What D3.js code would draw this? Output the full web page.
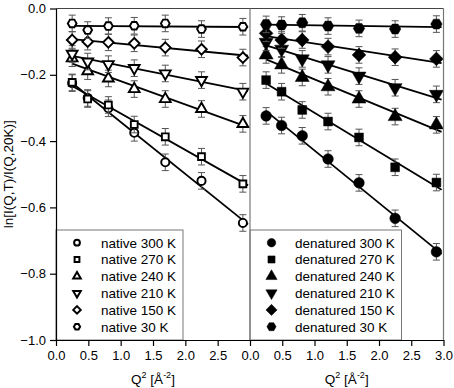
<!DOCTYPE html>
<html lang="en">
<head>
<meta charset="UTF-8"/>
<title>ln I(Q,T) vs Q2</title>
<script src="https://d3js.org/d3.v7.min.js"></script>
<style>
	body { margin: 0; background: #fff; }
	text { font-family: "Liberation Sans", Arial, sans-serif; }
</style>
</head>
<body>
<script>
	// Q^2 values (A^-2)
	var q2 = [0.25, 0.49, 0.81, 1.21, 1.69, 2.25, 2.89];

	var nativeLabels = ["native 300 K", "native 270 K", "native 240 K", "native 210 K", "native 150 K", "native 30 K"];
	var denatLabels = ["denatured 300 K", "denatured 270 K", "denatured 240 K", "denatured 210 K", "denatured 150 K", "denatured 30 K"];

	var native300 = [-0.225, -0.270, -0.301, -0.375, -0.464, -0.520, -0.647];
	var native270 = [-0.223, -0.273, -0.291, -0.350, -0.387, -0.447, -0.529];
	var native240 = [-0.150, -0.189, -0.211, -0.243, -0.273, -0.303, -0.348];
	var native210 = [-0.137, -0.160, -0.168, -0.180, -0.196, -0.216, -0.251];
	var native150 = [-0.095, -0.100, -0.102, -0.105, -0.118, -0.123, -0.148];
	var native30  = [-0.045, -0.065, -0.053, -0.052, -0.045, -0.062, -0.055];

	var denat300 = [-0.324, -0.353, -0.384, -0.454, -0.526, -0.633, -0.734];
	var denat270 = [-0.216, -0.251, -0.306, -0.341, -0.389, -0.479, -0.525];
	var denat240 = [-0.140, -0.170, -0.208, -0.236, -0.273, -0.326, -0.351];
	var denat210 = [-0.102, -0.123, -0.152, -0.170, -0.204, -0.239, -0.259];
	var denat150 = [-0.075, -0.095, -0.095, -0.115, -0.140, -0.147, -0.152];
	var denat30  = [-0.048, -0.050, -0.043, -0.053, -0.060, -0.062, -0.047];

	var errBar = 0.025;

	var xTicksLeft = [0, 0.5, 1, 1.5, 2, 2.5];
	var xTicksRight = [0, 0.5, 1, 1.5, 2, 2.5, 3];
	var yTicks = [0, -0.2, -0.4, -0.6, -0.8, -1.0];

	var w = 454, h = 388;
	var padL = 56, padMid = 250, padR = 443.5, padT = 8.5, padB = 340;

	var svg = d3.select("body").append("svg")
		.attr("width", w).attr("height", h);

	var yScale = d3.scaleLinear().domain([-1, 0]).range([padB, padT]);
	var xLeft = d3.scaleLinear().domain([0, 3]).range([padL, padMid]);
	var xRight = d3.scaleLinear().domain([0, 3]).range([padMid, padR]);

	// custom marker shapes
	var triDown = { draw: function(ctx, size) {
		var s = Math.sqrt(size / (Math.sqrt(3) / 4));
		var hgt = s * Math.sqrt(3) / 2;
		ctx.moveTo(-s / 2, -hgt / 3);
		ctx.lineTo(s / 2, -hgt / 3);
		ctx.lineTo(0, 2 * hgt / 3);
		ctx.closePath();
	}};
	var triUp = { draw: function(ctx, size) {
		var s = Math.sqrt(size / (Math.sqrt(3) / 4));
		var hgt = s * Math.sqrt(3) / 2;
		ctx.moveTo(-s / 2, hgt / 3);
		ctx.lineTo(s / 2, hgt / 3);
		ctx.lineTo(0, -2 * hgt / 3);
		ctx.closePath();
	}};
	var diamond = { draw: function(ctx, size) {
		var r = Math.sqrt(size / 2);
		ctx.moveTo(0, -r); ctx.lineTo(r, 0); ctx.lineTo(0, r); ctx.lineTo(-r, 0);
		ctx.closePath();
	}};
	var hexagon = { draw: function(ctx, size) {
		var r = Math.sqrt(size / (3 * Math.sqrt(3) / 2));
		for (var i = 0; i < 6; i++) {
			var a = Math.PI / 3 * i;
			var px = r * Math.cos(a), py = r * Math.sin(a);
			if (i == 0) ctx.moveTo(px, py); else ctx.lineTo(px, py);
		}
		ctx.closePath();
	}};
	var shapes = [d3.symbolCircle, d3.symbolSquare, triUp, triDown, diamond, hexagon];
	var sizes = [52, 46, 50, 50, 56, 50];

	var nativeSeries = [native300, native270, native240, native210, native150, native30];
	var denatSeries = [denat300, denat270, denat240, denat210, denat150, denat30];

	function fit(vals) {
		var mx = d3.mean(q2), my = d3.mean(vals);
		var sxy = d3.sum(q2, function(x, i) { return (x - mx) * (vals[i] - my); });
		var sxx = d3.sum(q2, function(x) { return (x - mx) * (x - mx); });
		var b = sxy / sxx;
		return { a: my - b * mx, b: b };
	}

	function drawPanel(xScale, series, filled) {
		var g = svg.append("g");
		series.forEach(function(vals, k) {
			var f = fit(vals);
			var xs = [q2[0], 2.97];
			g.append("path")
				.datum(xs)
				.attr("d", d3.line()
					.x(function(d) { return xScale(d); })
					.y(function(d) { return yScale(f.a + f.b * d); }))
				.attr("fill", "none")
				.attr("stroke", "#000")
				.attr("stroke-width", 1.8);

			var pts = g.append("g").selectAll("g")
				.data(vals)
				.enter()
				.append("g")
				.attr("transform", function(d, i) {
					return "translate(" + xScale(q2[i]) + "," + yScale(d) + ")";
				});
			pts.append("line")
				.attr("x1", 0).attr("x2", 0)
				.attr("y1", function(d) { return yScale(d + errBar) - yScale(d); })
				.attr("y2", function(d) { return yScale(d - errBar) - yScale(d); })
				.attr("stroke", "#555").attr("stroke-width", 1);
			[errBar, -errBar].forEach(function(e) {
				pts.append("line")
					.attr("x1", -3.5).attr("x2", 3.5)
					.attr("y1", function(d) { return yScale(d + e) - yScale(d); })
					.attr("y2", function(d) { return yScale(d + e) - yScale(d); })
					.attr("stroke", "#555").attr("stroke-width", 1);
			});
			pts.append("path")
				.attr("d", d3.symbol().type(shapes[k]).size(filled ? sizes[k] * 1.7 : sizes[k]))
				.attr("fill", filled ? "#000" : "#fff")
				.attr("stroke", "#000")
				.attr("stroke-width", filled ? 0.5 : 1.9);
		});
	}

	drawPanel(xLeft, nativeSeries, false);
	drawPanel(xRight, denatSeries, true);

	// legends
	function drawLegend(x0, x1, labels, filled, symX, textX) {
		var g = svg.append("g");
		g.append("rect")
			.attr("x", x0).attr("y", 230)
			.attr("width", x1 - x0).attr("height", padB - 230)
			.attr("fill", "#fff").attr("stroke", "#777").attr("stroke-width", 1);
		var rows = g.selectAll("g.row")
			.data(labels)
			.enter()
			.append("g")
			.attr("transform", function(d, i) { return "translate(0," + (242.7 + i * 16.8) + ")"; });
		rows.append("path")
			.attr("transform", "translate(" + symX + ",0)")
			.attr("d", function(d, i) {
				return d3.symbol().type(shapes[i]).size(filled ? sizes[i] * 1.1 : sizes[i] * 0.5)();
			})
			.attr("fill", filled ? "#000" : "#fff")
			.attr("stroke", "#000")
			.attr("stroke-width", filled ? 0.5 : 2);
		rows.append("text")
			.attr("x", textX)
			.attr("dy", "0.36em")
			.attr("font-size", 13.5)
			.text(function(d) { return d; });
	}
	drawLegend(padL, 183, nativeLabels, false, 77, 101);
	drawLegend(padMid, 401.5, denatLabels, true, 271.5, 295);

	// frame
	svg.append("line").attr("x1", padL).attr("x2", padR).attr("y1", padT).attr("y2", padT)
		.attr("stroke", "#444").attr("stroke-width", 1);
	svg.append("line").attr("x1", padMid).attr("x2", padMid).attr("y1", padT).attr("y2", padB)
		.attr("stroke", "#777").attr("stroke-width", 1.2);
	svg.append("line").attr("x1", padR).attr("x2", padR).attr("y1", padT).attr("y2", padB)
		.attr("stroke", "#777").attr("stroke-width", 1.2);

	// axes
	var yAxis = d3.axisLeft(yScale).tickValues(yTicks).tickSize(6).tickSizeOuter(0)
		.tickFormat(d3.format(".1f"));
	var ya = svg.append("g").attr("transform", "translate(" + padL + ",0)").call(yAxis);

	var xa1 = svg.append("g").attr("transform", "translate(0," + padB + ")")
		.call(d3.axisBottom(xLeft).tickValues(xTicksLeft).tickSize(6).tickSizeOuter(0)
			.tickFormat(d3.format(".1f")));
	var xa2 = svg.append("g").attr("transform", "translate(0," + padB + ")")
		.call(d3.axisBottom(xRight).tickValues(xTicksRight).tickSize(6).tickSizeOuter(0)
			.tickFormat(d3.format(".1f")));

	[ya, xa1, xa2].forEach(function(a) {
		a.selectAll("text").attr("font-size", 13).attr("fill", "#000")
			.attr("font-family", "'Liberation Sans', Arial, sans-serif");
		a.selectAll("line, path").attr("stroke", "#000").attr("stroke-width", 1.2);
	});
	ya.selectAll("text").attr("x", -10);
	xa1.selectAll("text").attr("y", 11);
	xa2.selectAll("text").attr("y", 11);

	// axis titles
	[xLeft, xRight].forEach(function(xs) {
		var t = svg.append("text")
			.attr("x", xs(1.5)).attr("y", 384)
			.attr("text-anchor", "middle")
			.attr("font-size", 13.5);
		t.append("tspan").text("Q");
		t.append("tspan").attr("font-size", 9).attr("dy", -6).text("2");
		t.append("tspan").attr("dy", 6).text(" [Å");
		t.append("tspan").attr("font-size", 9).attr("dy", -6).text("-2");
		t.append("tspan").attr("dy", 6).text("]");
	});

	svg.append("text")
		.attr("transform", "translate(13," + ((padT + padB) / 2) + ") rotate(-90)")
		.attr("text-anchor", "middle")
		.attr("font-size", 13.5)
		.text("ln[I(Q,T)/I(Q,20K)]");
</script>
</body>
</html>
